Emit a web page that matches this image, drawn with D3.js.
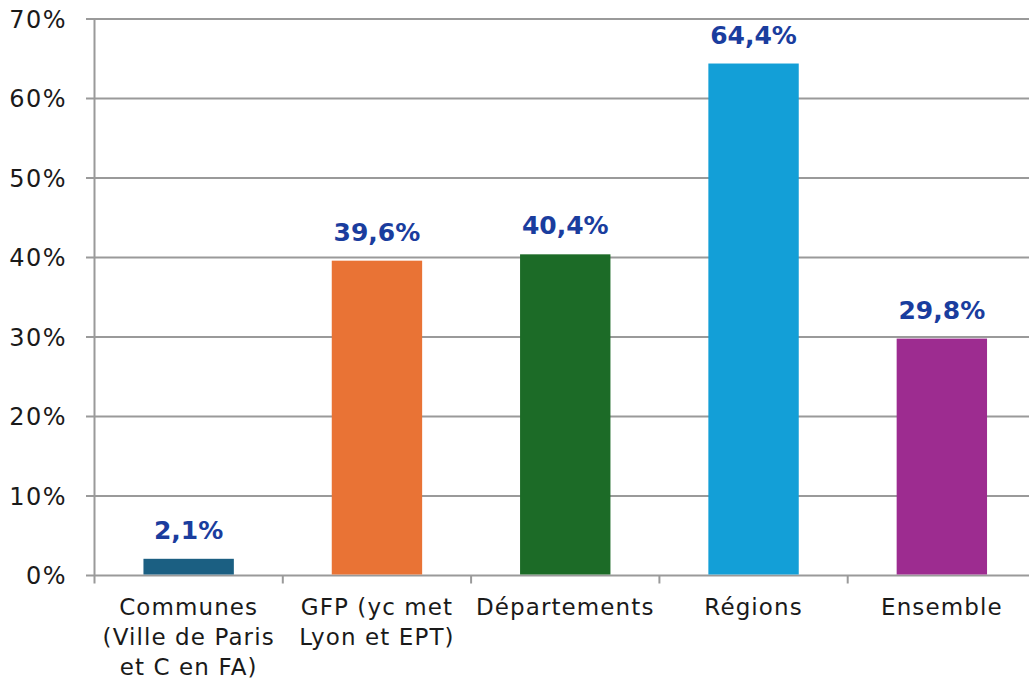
<!DOCTYPE html>
<html><head><meta charset="utf-8">
<script src="https://cdn.jsdelivr.net/npm/d3@7"></script>
<style>body{margin:0;background:#fff}svg{display:block}</style>
</head><body><svg id="c" width="1029" height="683"></svg>
<script>
const categories = [["Communes","(Ville de Paris","et C en FA)"],["GFP (yc met","Lyon et EPT)"],["Départements"],["Régions"],["Ensemble"]];
const values = [2.1, 39.6, 40.4, 64.4, 29.8];
const valueLabels = ["2,1%","39,6%","40,4%","64,4%","29,8%"];
const colors = ["#1b5f82","#e97335","#1c6b27","#139fd7","#9d2c90"];
const yTicks = [0,10,20,30,40,50,60,70];

const svg = d3.select("#c");
const FONT = "'DejaVu Sans', sans-serif";
const x0 = 94.5, x1 = 1036, yb = 575.5, yt = 19;
const x = d3.scaleBand().domain(d3.range(values.length)).range([x0, x1]).paddingInner(0.52).paddingOuter(0.26);
const xb = d3.scaleBand().domain(d3.range(values.length)).range([x0, x1]);
const y = d3.scaleLinear().domain([0,70]).range([yb, yt]);

svg.append("g").selectAll("line").data(yTicks).join("line")
  .attr("x1", 86).attr("x2", 1029)
  .attr("y1", d=>y(d)).attr("y2", d=>y(d))
  .attr("stroke", "#9a9a9a").attr("stroke-width", 2);
svg.append("line").attr("x1", x0).attr("x2", x0).attr("y1", yt).attr("y2", yb+8)
  .attr("stroke", "#9a9a9a").attr("stroke-width", 2);
svg.append("g").selectAll("line").data(d3.range(1, values.length)).join("line")
  .attr("x1", d=>xb(d)).attr("x2", d=>xb(d)).attr("y1", yb).attr("y2", yb+8)
  .attr("stroke", "#9a9a9a").attr("stroke-width", 2);
svg.append("g").selectAll("text").data(yTicks).join("text")
  .attr("x", 67).attr("y", d=>y(d)).attr("dy", "0.36em")
  .attr("text-anchor", "end").attr("font-family", FONT).attr("font-size", 24)
  .attr("letter-spacing", 1.5)
  .attr("fill", "#1a1a1a").text(d=>d+"%");
svg.append("g").selectAll("rect").data(values).join("rect")
  .attr("x", (d,i)=>x(i)).attr("width", x.bandwidth())
  .attr("y", d=>y(d)).attr("height", d=>yb-1-y(d))
  .attr("fill", (d,i)=>colors[i]);
svg.append("g").selectAll("text").data(values).join("text")
  .attr("x", (d,i)=>x(i)+x.bandwidth()/2).attr("y", d=>y(d)-20)
  .attr("text-anchor", "middle").attr("font-family", FONT).attr("font-weight", "bold")
  .attr("font-size", 25).attr("fill", "#1a3d9e").text((d,i)=>valueLabels[i]);
const cg = svg.append("g").selectAll("text").data(categories).join("text")
  .attr("x", (d,i)=>x(i)+x.bandwidth()/2).attr("y", 615)
  .attr("text-anchor", "middle").attr("font-family", FONT).attr("font-size", 23)
  .attr("letter-spacing", 1.1)
  .attr("fill", "#1a1a1a");
cg.selectAll("tspan").data(d=>d).join("tspan")
  .attr("x", function(){return this.parentNode.getAttribute("x");})
  .attr("dy", (d,i)=>i===0?0:30).text(d=>d);
</script></body></html>
